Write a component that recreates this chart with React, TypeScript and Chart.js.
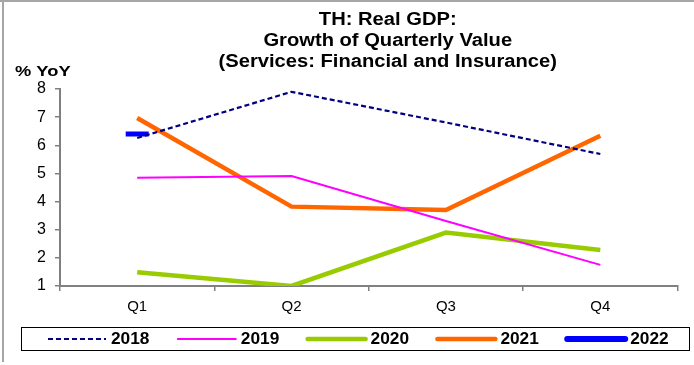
import React, { useEffect, useRef } from "react";
import { Chart, registerables } from "chart.js";

Chart.register(...registerables);

const categories = ["Q1", "Q2", "Q3", "Q4"];
const seriesNames = ["2018", "2019", "2020", "2021", "2022"];
const s2018 = [6.26, 7.9, 6.81, 5.69];
const s2019 = [4.85, 4.91, 3.31, 1.75];
const s2020 = [1.49, 1.0, 2.9, 2.28];
const s2021 = [6.97, 3.82, 3.7, 6.34];
const s2022 = [6.4, null, null, null];
const titleLines = ["TH: Real GDP:", "Growth of Quarterly Value", "(Services: Financial and Insurance)"];
const yAxisLabel = "% YoY";
const yMin = 1;
const yMax = 8;

const FONT = '"Liberation Sans", Arial, sans-serif';

function wideText(ctx: any, text: string, x: number, y: number, sx: number, align: "left" | "center") {
  ctx.save();
  ctx.translate(x, y);
  ctx.scale(sx, 1);
  ctx.textAlign = align;
  ctx.fillText(text, 0, 0);
  ctx.restore();
}

export default function App() {
  const ref = useRef<HTMLCanvasElement | null>(null);

  useEffect(() => {
    if (!ref.current) return;

    const decor = {
      id: "decor",
      afterDraw(chart: any) {
        const ctx = chart.ctx;
        const ca = chart.chartArea;
        ctx.save();
        // outer border
        ctx.strokeStyle = "#a6a6a6";
        ctx.lineWidth = 2;
        ctx.beginPath();
        ctx.moveTo(3, 0);
        ctx.lineTo(3, 362);
        ctx.moveTo(0, 1);
        ctx.lineTo(694, 1);
        ctx.stroke();
        // title
        ctx.fillStyle = "#000";
        ctx.font = `bold 18px ${FONT}`;
        ctx.textBaseline = "alphabetic";
        const cx = (ca.left + ca.right) / 2 + 19;
        titleLines.forEach((t, i) => wideText(ctx, t, cx, 25 + i * 21, 1.12, "center"));
        // y axis label
        ctx.font = `bold 15px ${FONT}`;
        wideText(ctx, yAxisLabel, 15, 76, 1.22, "left");
        // legend
        const boxL = 21, boxR = 689, boxT = 327, boxB = 350;
        ctx.strokeStyle = "#000";
        ctx.lineWidth = 1;
        ctx.strokeRect(boxL + 0.5, boxT + 0.5, boxR - boxL, boxB - boxT);
        const midY = (boxT + boxB) / 2 + 0.5;
        chart.data.datasets.forEach((ds: any, i: number) => {
          const x0 = 48 + i * 129.8;
          const x1 = x0 + 58;
          ctx.save();
          ctx.strokeStyle = ds.borderColor;
          ctx.lineWidth = ds.legendWidth;
          ctx.lineCap = ds.borderDash ? "butt" : "round";
          ctx.setLineDash(ds.borderDash || []);
          ctx.beginPath();
          ctx.moveTo(x0, midY);
          ctx.lineTo(x1, midY);
          ctx.stroke();
          ctx.restore();
          ctx.fillStyle = "#000";
          ctx.font = `bold 16px ${FONT}`;
          ctx.textBaseline = "middle";
          wideText(ctx, ds.label, x1 + 5, midY + 1, 1.08, "left");
        });
        ctx.restore();
      },
    };

    const chart = new Chart(ref.current, {
      type: "line",
      data: {
        labels: categories,
        datasets: [
          {
            label: seriesNames[0],
            data: s2018,
            borderColor: "#000080",
            borderWidth: 2.2,
            borderDash: [5, 3],
            pointRadius: 0,
            legendWidth: 2.2,
          } as any,
          {
            label: seriesNames[1],
            data: s2019,
            borderColor: "#FF00FF",
            borderWidth: 2,
            pointRadius: 0,
            legendWidth: 2,
          } as any,
          {
            label: seriesNames[2],
            data: s2020,
            borderColor: "#99CC00",
            borderWidth: 4.5,
            pointRadius: 0,
            legendWidth: 4.5,
          } as any,
          {
            label: seriesNames[3],
            data: s2021,
            borderColor: "#FF6600",
            borderWidth: 4.5,
            pointRadius: 0,
            legendWidth: 4.5,
          } as any,
          {
            label: seriesNames[4],
            data: s2022,
            borderColor: "#0000FF",
            backgroundColor: "#0000FF",
            borderWidth: 6,
            pointStyle: "line",
            pointRadius: 11.5,
            pointBorderWidth: 5,
            pointBorderColor: "#0000FF",
            legendWidth: 6,
          } as any,
        ],
      },
      options: {
        animation: false,
        responsive: false,
        events: [],
        layout: { padding: { top: 89, bottom: 49, left: 0, right: 2 } },
        plugins: {
          legend: { display: false },
          title: { display: false },
          tooltip: { enabled: false },
        },
        elements: { line: { tension: 0 } },
        scales: {
          x: {
            type: "category",
            offset: true,
            afterFit: (s: any) => {
              s.height = 30;
            },
            grid: {
              offset: true,
              drawOnChartArea: false,
              drawTicks: true,
              tickLength: 5,
              color: "#808080",
              lineWidth: 1.5,
            },
            border: { display: true, color: "#808080", width: 2 },
            ticks: {
              color: "#000",
              font: { family: FONT, size: 15 },
              padding: 7,
              maxRotation: 0,
            },
          },
          y: {
            min: yMin,
            max: yMax,
            afterFit: (s: any) => {
              s.width = 60;
            },
            grid: {
              drawOnChartArea: false,
              drawTicks: true,
              tickLength: 5,
              color: "#808080",
              lineWidth: 1.5,
            },
            border: { display: true, color: "#808080", width: 2 },
            ticks: {
              stepSize: 1,
              color: "#000",
              font: { family: FONT, size: 16 },
              padding: 9,
            },
          },
        },
      },
      plugins: [decor],
    });

    return () => chart.destroy();
  }, []);

  return (
    <div style={{ position: "absolute", left: 0, top: 0, width: 694, height: 365, background: "#fff" }}>
      <canvas ref={ref} width={694} height={365} />
    </div>
  );
}
